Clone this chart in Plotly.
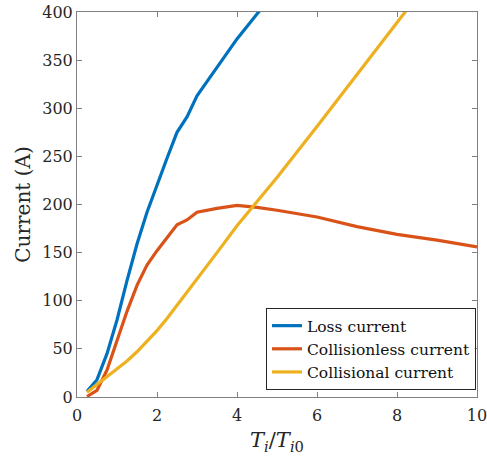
import plotly.graph_objects as go

x_loss = [0.25, 0.5, 0.75, 1.0, 1.25, 1.5, 1.75, 2.0, 2.25, 2.5, 2.75, 3.0, 3.5, 4.0, 4.5, 5.0]
loss_current = [6, 18, 45, 80, 121, 159, 192, 221, 248, 275, 291, 313, 343, 372, 398, 422]

x_ti = [0.25, 0.5, 0.75, 1.0, 1.25, 1.5, 1.75, 2.0, 2.25, 2.5, 2.75, 3.0, 3.5, 4.0, 4.5, 5.0, 6.0, 7.0, 8.0, 9.0, 10.0]
collisionless_current = [0.5, 7, 28, 58, 89, 116, 137, 152, 166, 179, 184, 192, 196, 199, 197, 194, 187, 177, 169, 163, 156]
collisional_current = [5, 13, 21, 29, 37.5, 47, 57.5, 69, 81.5, 95, 109, 123, 150, 178, 203, 228, 281, 335, 389, 443, 497]

x_ticks = [0, 2, 4, 6, 8, 10]
y_ticks = [0, 50, 100, 150, 200, 250, 300, 350, 400]

FONT = "DejaVu Serif"
TXT = "#262626"
AX = "#808080"

fig = go.Figure()
fig.add_trace(go.Scatter(x=x_loss, y=loss_current, mode="lines", name="Loss current",
                         line=dict(color="#0072BD", width=3.2)))
fig.add_trace(go.Scatter(x=x_ti, y=collisionless_current, mode="lines", name="Collisionless current",
                         line=dict(color="#D95319", width=3.2)))
fig.add_trace(go.Scatter(x=x_ti, y=collisional_current, mode="lines", name="Collisional current",
                         line=dict(color="#EDB120", width=3.2)))

axis_common = dict(showline=True, linecolor=AX, linewidth=1, mirror="ticks",
                   ticks="inside", ticklen=5, tickcolor=AX, tickwidth=1,
                   showgrid=False, zeroline=False, automargin=False,
                   ticklabeloverflow="allow",
                   tickfont=dict(family=FONT, size=16, color=TXT))

fig.update_layout(
    width=487, height=461,
    margin=dict(l=77, r=10, t=12, b=64),
    paper_bgcolor="white", plot_bgcolor="white",
    font=dict(family=FONT, color=TXT),
    showlegend=True,
    legend=dict(x=0.9975, y=0.018, xanchor="right", yanchor="bottom",
                bgcolor="white", bordercolor="#262626", borderwidth=1,
                font=dict(family=FONT, size=15.5, color="#111"),
                tracegroupgap=0, itemwidth=30),
    xaxis=dict(range=[0, 10], tickvals=x_ticks, ticklabelstandoff=4,
               title=dict(text="<i>T</i><sub><i>i</i></sub>/<i>T</i><sub><i>i</i>0</sub>",
                          font=dict(family=FONT, size=21, color=TXT), standoff=8),
               **axis_common),
    yaxis=dict(range=[0, 400], tickvals=y_ticks,
               title=dict(text="Current (A)", font=dict(family=FONT, size=20, color=TXT), standoff=6),
               **axis_common),
)

fig.write_html("out.html")
